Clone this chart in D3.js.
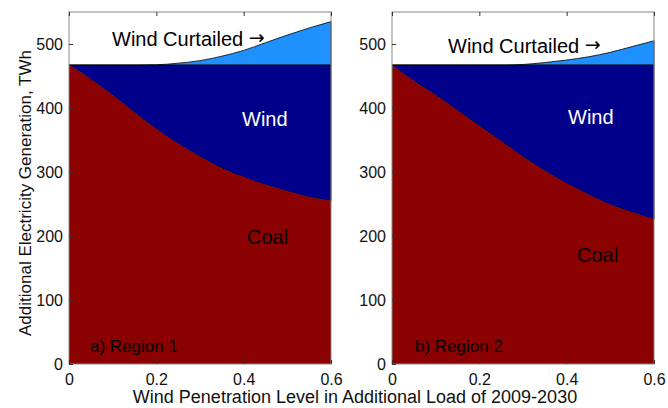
<!DOCTYPE html>
<html>
<head>
<meta charset="utf-8">
<script src="https://cdn.jsdelivr.net/npm/d3@7"></script>
<style>
  body { margin: 0; background: #fff; }
  text { font-family: "Liberation Sans", Arial, sans-serif; }
</style>
</head>
<body>
<div id="chart"></div>
<script>
// penetration level samples
var levels = [0, 0.05, 0.1, 0.15, 0.2, 0.25, 0.3, 0.35, 0.4, 0.45, 0.5, 0.55, 0.6];
var totalLoad = 467;
var coal1 = [467, 445, 420, 393, 367, 344, 324, 306, 292, 280, 270, 261, 255];
var curt1 = [0, 0, 0, 0, 0.5, 3, 7, 14, 23, 35, 47, 58, 68];
var coal2 = [467, 442, 420, 396, 372, 348, 324, 302, 282, 265, 249, 237, 226];
var curt2 = [0, 0, 0, 0, 0, 0, 1, 4, 8, 13, 20, 29, 38];
var xTicks = [0, 0.2, 0.4, 0.6];
var yTicks = [0, 100, 200, 300, 400, 500];

var W = 668, H = 408;
var svg = d3.select("#chart").append("svg")
    .attr("width", W).attr("height", H);

var y = d3.scaleLinear().domain([0, 550]).range([364, 12]);

var panels = [
  {left: 69, coal: coal1, curt: curt1, tag: "a) Region 1",
   curtLbl: [112, 46], windLbl: [242, 126], coalLbl: [247, 244], tagPos: [90, 352]},
  {left: 392, coal: coal2, curt: curt2, tag: "b) Region 2",
   curtLbl: [448, 53], windLbl: [568, 124], coalLbl: [577, 262], tagPos: [415, 352]}
];

panels.forEach(function(p) {
  var x = d3.scaleLinear().domain([0, 0.6]).range([p.left, p.left + 262]);
  var g = svg.append("g");
  var pts = levels.map(function(l, i) {
    return {x: l, coal: p.coal[i], top: totalLoad + p.curt[i]};
  });

  var coalArea = d3.area().curve(d3.curveMonotoneX)
      .x(function(d) { return x(d.x); })
      .y0(y(0)).y1(function(d) { return y(d.coal); });
  var windArea = d3.area().curve(d3.curveMonotoneX)
      .x(function(d) { return x(d.x); })
      .y0(function(d) { return y(d.coal); }).y1(y(totalLoad));
  var curtArea = d3.area().curve(d3.curveMonotoneX)
      .x(function(d) { return x(d.x); })
      .y0(y(totalLoad)).y1(function(d) { return y(d.top); });

  g.append("path").datum(pts).attr("d", curtArea)
      .attr("fill", "#1e90ff").attr("stroke", "#000").attr("stroke-width", 0.8);
  g.append("path").datum(pts).attr("d", windArea)
      .attr("fill", "#00008b").attr("stroke", "#000").attr("stroke-width", 0.8);
  g.append("path").datum(pts).attr("d", coalArea)
      .attr("fill", "#8b0000").attr("stroke", "none");

  // box
  g.append("rect")
      .attr("x", x(0)).attr("y", y(550))
      .attr("width", x(0.6) - x(0)).attr("height", y(0) - y(550))
      .attr("fill", "none").attr("stroke", "#888").attr("stroke-width", 1);

  var ax = g.append("g").attr("transform", "translate(0," + y(0) + ")")
      .call(d3.axisBottom(x).tickValues(xTicks).tickSize(-4).tickPadding(10)
        .tickFormat(function(d) { return d === 0 ? "0" : d3.format(".1f")(d); }));
  var axTop = g.append("g").attr("transform", "translate(0," + y(550) + ")")
      .call(d3.axisTop(x).tickValues(xTicks).tickSize(-4).tickFormat(""));
  var ay = g.append("g").attr("transform", "translate(" + x(0) + ",0)")
      .call(d3.axisLeft(y).tickValues(yTicks).tickSize(-4).tickPadding(6));
  [ax, axTop, ay].forEach(function(a) {
    a.select(".domain").remove();
    a.selectAll("line").attr("stroke", "#333");
    a.selectAll("text").attr("font-size", 16).attr("fill", "#111")
      .attr("font-family", "Liberation Sans, Arial, sans-serif");
  });

  var ct = g.append("text").attr("x", p.curtLbl[0]).attr("y", p.curtLbl[1])
      .attr("font-size", 20).attr("fill", "#000");
  ct.append("tspan").text("Wind Curtailed ");
  ct.append("tspan").attr("font-family", "DejaVu Sans").attr("font-size", 19)
      .attr("dy", -2).text("\u2192");
  g.append("text").attr("x", p.windLbl[0]).attr("y", p.windLbl[1])
      .attr("font-size", 20).attr("fill", "#fff").text("Wind");
  g.append("text").attr("x", p.coalLbl[0]).attr("y", p.coalLbl[1])
      .attr("font-size", 20).attr("fill", "#000").text("Coal");
  g.append("text").attr("x", p.tagPos[0]).attr("y", p.tagPos[1])
      .attr("font-size", 17).attr("fill", "#000").text(p.tag);
});

svg.append("text")
    .attr("x", 355).attr("y", 403)
    .attr("text-anchor", "middle")
    .attr("font-size", 18).attr("fill", "#111")
    .text("Wind Penetration Level in Additional Load of 2009-2030");

svg.append("text")
    .attr("transform", "translate(31,193) rotate(-90)")
    .attr("text-anchor", "middle")
    .attr("font-size", 17).attr("fill", "#111")
    .text("Additional Electricity Generation, TWh");
</script>
</body>
</html>
